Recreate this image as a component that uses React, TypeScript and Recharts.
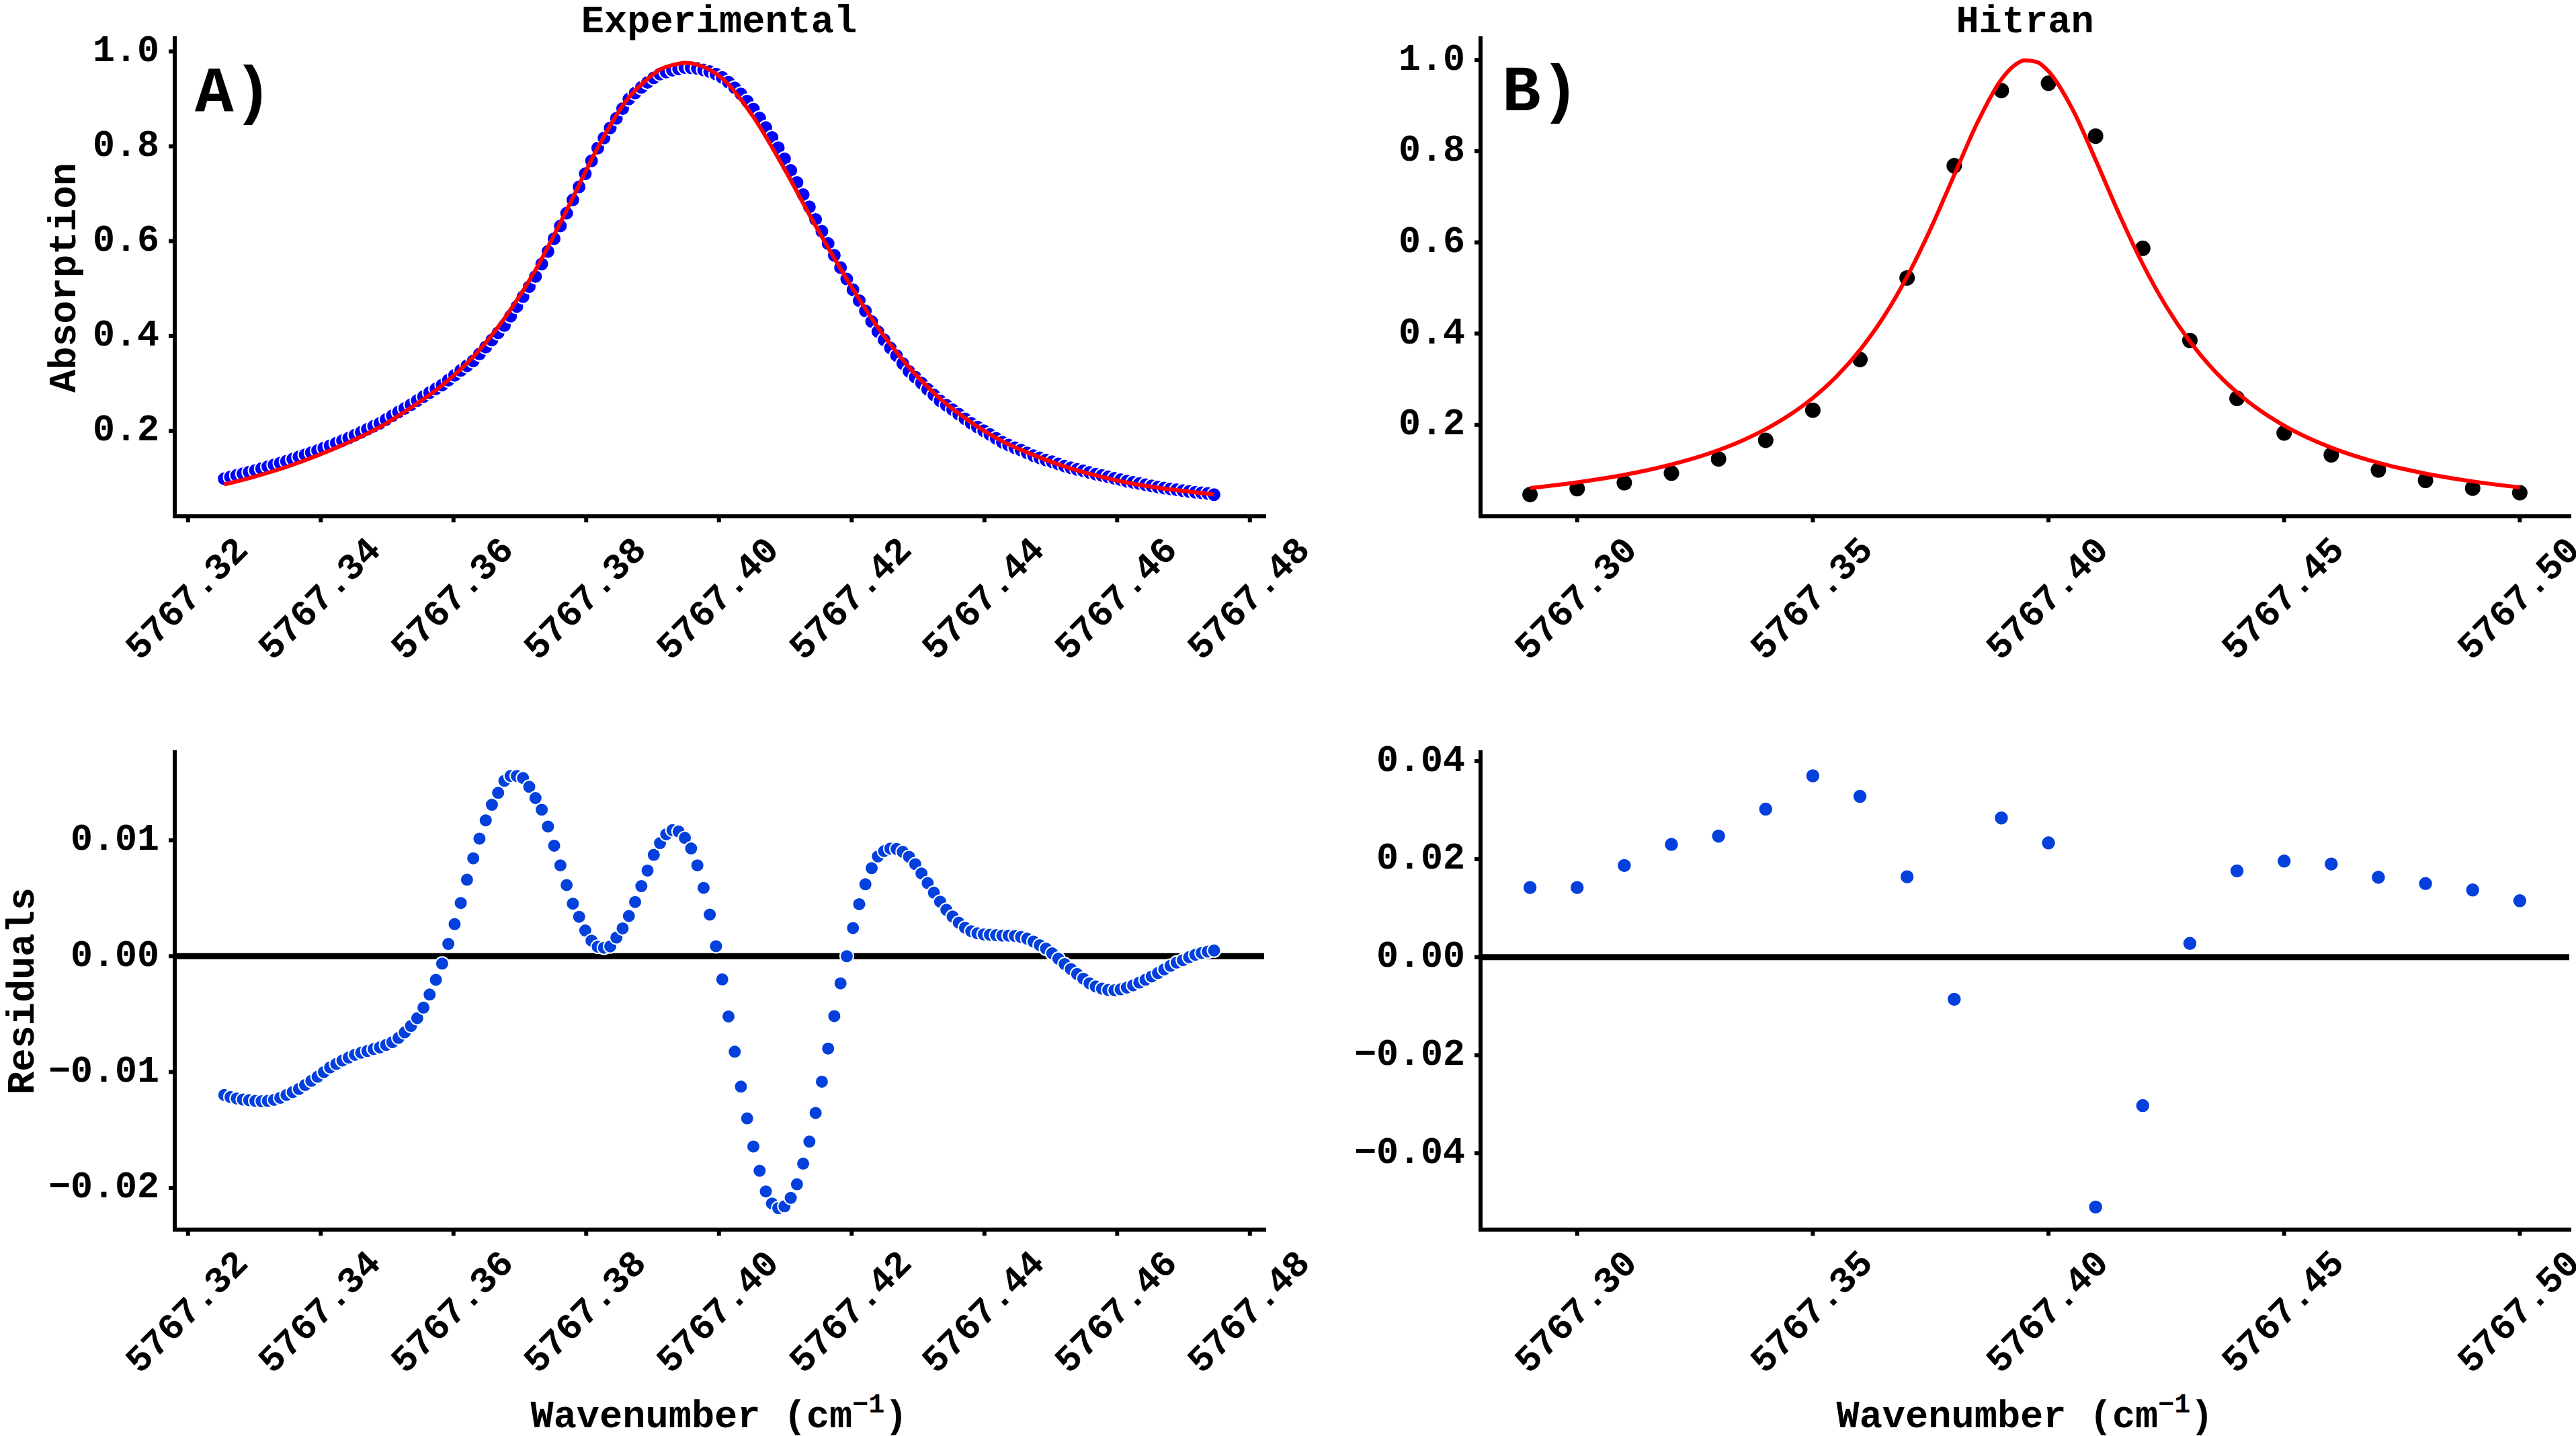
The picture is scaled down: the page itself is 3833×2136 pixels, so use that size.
import React from 'react';
import { ComposedChart, Scatter, XAxis, YAxis, ReferenceLine } from 'recharts';

const FONT = '"Liberation Mono", "DejaVu Sans Mono", monospace';

// Experimental scan (panel A): measured absorption, fit residuals, fitted profile
const expWavenumber = [
  5767.32546, 5767.3264, 5767.32734, 5767.32827, 5767.32921, 5767.33015, 5767.33109, 5767.33203, 5767.33296, 5767.3339,
  5767.33484, 5767.33578, 5767.33672, 5767.33765, 5767.33859, 5767.33953, 5767.34047, 5767.34141, 5767.34234, 5767.34328,
  5767.34422, 5767.34516, 5767.3461, 5767.34703, 5767.34797, 5767.34891, 5767.34985, 5767.35079, 5767.35172, 5767.35266,
  5767.3536, 5767.35454, 5767.35548, 5767.35641, 5767.35735, 5767.35829, 5767.35923, 5767.36017, 5767.3611, 5767.36204,
  5767.36298, 5767.36392, 5767.36486, 5767.36579, 5767.36673, 5767.36767, 5767.36861, 5767.36955, 5767.37048, 5767.37142,
  5767.37236, 5767.3733, 5767.37424, 5767.37517, 5767.37611, 5767.37705, 5767.37799, 5767.37893, 5767.37986, 5767.3808,
  5767.38174, 5767.38268, 5767.38362, 5767.38455, 5767.38549, 5767.38643, 5767.38737, 5767.38831, 5767.38924, 5767.39018,
  5767.39112, 5767.39206, 5767.393, 5767.39393, 5767.39487, 5767.39581, 5767.39675, 5767.39769, 5767.39862, 5767.39956,
  5767.4005, 5767.40144, 5767.40238, 5767.40331, 5767.40425, 5767.40519, 5767.40613, 5767.40707, 5767.408, 5767.40894,
  5767.40988, 5767.41082, 5767.41176, 5767.41269, 5767.41363, 5767.41457, 5767.41551, 5767.41645, 5767.41738, 5767.41832,
  5767.41926, 5767.4202, 5767.42114, 5767.42207, 5767.42301, 5767.42395, 5767.42489, 5767.42583, 5767.42676, 5767.4277,
  5767.42864, 5767.42958, 5767.43052, 5767.43145, 5767.43239, 5767.43333, 5767.43427, 5767.43521, 5767.43614, 5767.43708,
  5767.43802, 5767.43896, 5767.4399, 5767.44083, 5767.44177, 5767.44271, 5767.44365, 5767.44459, 5767.44552, 5767.44646,
  5767.4474, 5767.44834, 5767.44928, 5767.45021, 5767.45115, 5767.45209, 5767.45303, 5767.45397, 5767.4549, 5767.45584,
  5767.45678, 5767.45772, 5767.45866, 5767.45959, 5767.46053, 5767.46147, 5767.46241, 5767.46335, 5767.46428, 5767.46522,
  5767.46616, 5767.4671, 5767.46804, 5767.46897, 5767.46991, 5767.47085, 5767.47179, 5767.47273, 5767.47366, 5767.4746,
];

const expAbsorption = [
  0.099, 0.1026, 0.1061, 0.1096, 0.113, 0.1165, 0.1205, 0.1245, 0.1284, 0.1322,
  0.136, 0.1405, 0.1451, 0.1495, 0.154, 0.1584, 0.1636, 0.1688, 0.1741, 0.1794,
  0.1848, 0.1909, 0.1971, 0.2034, 0.2096, 0.2159, 0.2239, 0.2318, 0.2397, 0.2474,
  0.255, 0.2638, 0.2722, 0.2805, 0.2886, 0.2966, 0.3069, 0.3172, 0.3274, 0.3374,
  0.3476, 0.3621, 0.3767, 0.3915, 0.4067, 0.4219, 0.4418, 0.4622, 0.4828, 0.504,
  0.5254, 0.5516, 0.5782, 0.6051, 0.632, 0.6589, 0.6869, 0.7144, 0.742, 0.7693,
  0.7962, 0.8175, 0.8386, 0.859, 0.8794, 0.8995, 0.9123, 0.924, 0.9346, 0.9443,
  0.9522, 0.9565, 0.9601, 0.9632, 0.9658, 0.9657, 0.9642, 0.9611, 0.9574, 0.9521,
  0.945, 0.9352, 0.9232, 0.9103, 0.895, 0.8784, 0.8595, 0.8393, 0.8184, 0.7968,
  0.7736, 0.7489, 0.7237, 0.6979, 0.672, 0.6455, 0.6208, 0.595, 0.5702, 0.5443,
  0.52, 0.4976, 0.4745, 0.4528, 0.4304, 0.4094, 0.3919, 0.3747, 0.3587, 0.342,
  0.3254, 0.3131, 0.3009, 0.2877, 0.2755, 0.2633, 0.254, 0.2446, 0.2351, 0.2255,
  0.2159, 0.208, 0.2001, 0.1922, 0.1842, 0.1762, 0.1702, 0.1643, 0.1593, 0.1535,
  0.1477, 0.1431, 0.1384, 0.1348, 0.1302, 0.1257, 0.1221, 0.1185, 0.1159, 0.1123,
  0.1086, 0.1058, 0.1029, 0.0999, 0.0969, 0.0937, 0.0913, 0.0889, 0.0864, 0.084,
  0.0815, 0.0795, 0.0776, 0.0758, 0.0739, 0.0721, 0.0706, 0.0693, 0.0679, 0.0655,
];

const expResidual = [
  -0.01198, -0.01216, -0.01228, -0.01237, -0.01243, -0.01249, -0.01252, -0.01249, -0.0124, -0.01222,
  -0.01198, -0.01173, -0.01146, -0.01112, -0.01076, -0.0104, -0.01, -0.0096, -0.0093, -0.009,
  -0.00875, -0.00851, -0.00833, -0.00818, -0.00802, -0.00787, -0.00766, -0.00742, -0.00705, -0.00657,
  -0.00602, -0.00535, -0.00444, -0.00331, -0.00204, -0.00064, 0.00106, 0.00277, 0.00459, 0.0066,
  0.00845, 0.01015, 0.01173, 0.01307, 0.0141, 0.01514, 0.01556, 0.01556, 0.01538, 0.01462,
  0.01365, 0.01264, 0.01119, 0.00954, 0.00784, 0.00614, 0.00453, 0.0034, 0.00222, 0.00134,
  0.00082, 0.00073, 0.00085, 0.00161, 0.0024, 0.00347, 0.00468, 0.00605, 0.00739, 0.00875,
  0.00976, 0.01052, 0.01088, 0.01076, 0.01021, 0.0093, 0.00784, 0.0059, 0.00359, 0.00086,
  -0.002, -0.0052, -0.00824, -0.01126, -0.014, -0.01643, -0.01852, -0.0203, -0.02135, -0.02175,
  -0.02159, -0.02086, -0.01969, -0.0179, -0.016, -0.01353, -0.01083, -0.00797, -0.00517, -0.00234,
  0.0, 0.00243, 0.00449, 0.00621, 0.0076, 0.00861, 0.00907, 0.00929, 0.00926, 0.00901,
  0.00858, 0.00794, 0.00714, 0.00631, 0.00548, 0.00471, 0.004, 0.00342, 0.00289, 0.00246,
  0.00215, 0.00197, 0.00188, 0.00185, 0.00181, 0.00178, 0.00178, 0.00175, 0.00166, 0.00151,
  0.00126, 0.00095, 0.00065, 0.00025, -0.00022, -0.00068, -0.00111, -0.00154, -0.00194, -0.00234,
  -0.00261, -0.0028, -0.00292, -0.00294, -0.00286, -0.00271, -0.00252, -0.00228, -0.00203, -0.00175,
  -0.00145, -0.00114, -0.00083, -0.00055, -0.00034, -0.00009, 0.00012, 0.00028, 0.0004, 0.00049,
];

const expFitWavenumber = [
  5767.32546, 5767.33015, 5767.33484, 5767.33953, 5767.34422, 5767.34891, 5767.3536, 5767.35829,
  5767.36298, 5767.36767, 5767.37236, 5767.37705, 5767.38174, 5767.38643, 5767.38924, 5767.39112,
  5767.393, 5767.39487, 5767.39581, 5767.39862, 5767.4005, 5767.40519, 5767.40988, 5767.41457,
  5767.41926, 5767.42395, 5767.42864, 5767.43333, 5767.43802, 5767.44271, 5767.4474, 5767.45209,
  5767.45678, 5767.46147, 5767.46616, 5767.47085, 5767.4746,
];
const expFitAbsorption = [
  0.087, 0.104, 0.124, 0.148, 0.176, 0.208, 0.249, 0.296,
  0.356, 0.437, 0.539, 0.665, 0.797, 0.903, 0.942, 0.962,
  0.971, 0.976, 0.975, 0.961, 0.943, 0.862, 0.752, 0.632,
  0.52, 0.418, 0.334, 0.268, 0.218, 0.178, 0.149, 0.125,
  0.106, 0.091, 0.08, 0.072, 0.066,
];

// HITRAN line (panel B)
const hitranWavenumber = [
  5767.29, 5767.3, 5767.31, 5767.32, 5767.33, 5767.34, 5767.35, 5767.36, 5767.37, 5767.38, 5767.39,
  5767.4, 5767.41, 5767.42, 5767.43, 5767.44, 5767.45, 5767.46, 5767.47, 5767.48, 5767.49, 5767.5,
];
const hitranAbsorption = [
  0.047, 0.06, 0.073, 0.094, 0.125, 0.166, 0.232, 0.343, 0.522, 0.768, 0.933,
  0.949, 0.833, 0.587, 0.385, 0.258, 0.182, 0.134, 0.101, 0.078, 0.061, 0.051,
];
const hitranResidual = [
  0.0142, 0.0142, 0.0187, 0.023, 0.0247, 0.0302, 0.037, 0.0328, 0.0164, -0.0086, 0.0284,
  0.0233, -0.051, -0.0303, 0.0028, 0.0176, 0.0196, 0.019, 0.0163, 0.015, 0.0137, 0.0115,
];
const hitranFitWavenumber = [
  5767.29, 5767.295, 5767.3, 5767.305, 5767.31, 5767.315, 5767.32, 5767.325, 5767.33, 5767.335,
  5767.34, 5767.345, 5767.35, 5767.355, 5767.36, 5767.365, 5767.37, 5767.375, 5767.38, 5767.385,
  5767.39, 5767.3925, 5767.395, 5767.3975, 5767.4, 5767.405, 5767.41, 5767.415, 5767.42, 5767.425,
  5767.43, 5767.435, 5767.44, 5767.445, 5767.45, 5767.455, 5767.46, 5767.465, 5767.47, 5767.475,
  5767.48, 5767.485, 5767.49, 5767.495, 5767.5,
];
const hitranFitAbsorption = [
  0.0613, 0.0671, 0.0737, 0.0814, 0.0903, 0.1007, 0.1129, 0.1273, 0.1445, 0.1652,
  0.1903, 0.221, 0.2588, 0.3057, 0.364, 0.4362, 0.5248, 0.63, 0.7477, 0.8643,
  0.9573, 0.986, 0.9993, 0.9956, 0.9752, 0.8939, 0.7809, 0.6618, 0.5525, 0.4592,
  0.3826, 0.3207, 0.2709, 0.2307, 0.1982, 0.1717, 0.1499, 0.1318, 0.1166, 0.1039,
  0.093, 0.0838, 0.0758, 0.0688, 0.0628,
];

const expTicks = [5767.32, 5767.34, 5767.36, 5767.38, 5767.4, 5767.42, 5767.44, 5767.46, 5767.48];
const hitranTicks = [5767.3, 5767.35, 5767.4, 5767.45, 5767.5];
const absorptionTicks = [0.2, 0.4, 0.6, 0.8, 1.0];
const expResidualTicks = [-0.02, -0.01, 0, 0.01];
const hitranResidualTicks = [-0.04, -0.02, 0, 0.02, 0.04];

type Pt = { x: number; y: number };
const toPoints = (xs: number[], ys: number[]): Pt[] => xs.map((x, i) => ({ x, y: ys[i] }));

const fmt = (v: number, digits: number) => v.toFixed(digits).replace('-', '\u2212');

const XTick = ({ x, y, payload }: any) => (
  <g transform={`translate(${x},${y + 115}) rotate(-45)`}>
    <text
      textAnchor="middle"
      dominantBaseline="central"
      fontFamily={FONT}
      fontWeight="bold"
      fontSize={55}
      fill="#000"
    >
      {fmt(payload.value, 2)}
    </text>
  </g>
);

const YTick = ({ x, y, payload, digits }: any) => (
  <text
    x={x}
    y={y}
    textAnchor="end"
    dominantBaseline="central"
    fontFamily={FONT}
    fontWeight="bold"
    fontSize={55}
    fill="#000"
  >
    {fmt(payload.value, digits)}
  </text>
);

type PanelProps = {
  left: number;
  top: number;
  width: number;
  height: number;
  plot: { x0: number; y0: number; x1: number; y1: number };
  xDomain: [number, number];
  yDomain: [number, number];
  xTicks: number[];
  yTicks: number[];
  yDigits: number;
  dots: Pt[];
  dotColor: string;
  dotRadius: number;
  dotEdge: number;
  fit?: Pt[];
  zeroLine?: boolean;
};

const spine = { stroke: '#000', strokeWidth: 6, strokeLinecap: 'square' as const };
const tickMark = { stroke: '#000', strokeWidth: 6 };

function Panel(p: PanelProps) {
  const yAxisWidth = p.plot.x0 - p.left;
  const xAxisHeight = p.top + p.height - p.plot.y1;
  const margin = { top: p.plot.y0 - p.top, right: p.left + p.width - p.plot.x1, bottom: 0, left: 0 };

  return (
    <div style={{ position: 'absolute', left: p.left, top: p.top }}>
      <ComposedChart width={p.width} height={p.height} margin={margin}>
        <XAxis
          type="number"
          dataKey="x"
          domain={p.xDomain}
          allowDataOverflow
          ticks={p.xTicks}
          interval={0}
          height={xAxisHeight}
          tickSize={9}
          tickMargin={0}
          axisLine={spine}
          tickLine={tickMark}
          tick={(t: any) => <XTick {...t} />}
        />
        <YAxis
          type="number"
          dataKey="y"
          domain={p.yDomain}
          allowDataOverflow
          ticks={p.yTicks}
          interval={0}
          width={yAxisWidth}
          tickSize={9}
          tickMargin={14}
          axisLine={spine}
          tickLine={tickMark}
          tick={(t: any) => <YTick {...t} digits={p.yDigits} />}
        />
        {p.zeroLine && <ReferenceLine y={0} stroke="#000" strokeWidth={9} />}
        <Scatter
          data={p.dots}
          dataKey="y"
          isAnimationActive={false}
          shape={(s: any) => (
            <circle
              cx={s.cx}
              cy={s.cy}
              r={p.dotRadius}
              fill={p.dotColor}
              stroke="#fff"
              strokeWidth={p.dotEdge}
            />
          )}
        />
        {/* fitted profile: a second scatter joined by a smooth curve, drawn above the dots */}
        {p.fit && (
          <Scatter
            data={p.fit}
            dataKey="y"
            fill="#ff0000"
            line={{ stroke: '#ff0000', strokeWidth: 6, fill: 'none' }}
            lineJointType="monotoneX"
            shape={() => <g />}
            isAnimationActive={false}
          />
        )}
      </ComposedChart>
    </div>
  );
}

const labelStyle = { fontFamily: FONT, fontWeight: 'bold' as const, fill: '#000' };

function AxisTitle({ x }: { x: number }) {
  return (
    <text x={x} y={2123} textAnchor="middle" fontSize={57} {...labelStyle}>
      Wavenumber (cm
      <tspan dy={-22} fontSize={40}>
        {'\u22121'}
      </tspan>
      <tspan dy={22}>)</tspan>
    </text>
  );
}

export default function App() {
  return (
    <div
      style={{
        position: 'absolute',
        left: 0,
        top: 0,
        width: 3833,
        height: 2136,
        background: '#fff',
        overflow: 'hidden',
      }}
    >
      <Panel
        left={0}
        top={0}
        width={1990}
        height={1080}
        plot={{ x0: 260, y0: 57, x1: 1881, y1: 768 }}
        xDomain={[5767.318, 5767.48215]}
        yDomain={[0.0198, 1.0276]}
        xTicks={expTicks}
        yTicks={absorptionTicks}
        yDigits={1}
        dots={toPoints(expWavenumber, expAbsorption)}
        dotColor="#0000ff"
        dotRadius={10.5}
        dotEdge={2}
        fit={toPoints(expFitWavenumber, expFitAbsorption)}
      />
      <Panel
        left={1950}
        top={0}
        width={1883}
        height={1080}
        plot={{ x0: 2203, y0: 57, x1: 3823, y1: 768 }}
        xDomain={[5767.2795, 5767.5105]}
        yDomain={[-0.0007, 1.0475]}
        xTicks={hitranTicks}
        yTicks={absorptionTicks}
        yDigits={1}
        dots={toPoints(hitranWavenumber, hitranAbsorption)}
        dotColor="#000000"
        dotRadius={11.5}
        dotEdge={0}
        fit={toPoints(hitranFitWavenumber, hitranFitAbsorption)}
      />
      <Panel
        left={0}
        top={1080}
        width={1990}
        height={1056}
        plot={{ x0: 260, y0: 1119, x1: 1881, y1: 1829 }}
        xDomain={[5767.318, 5767.48215]}
        yDomain={[-0.0236, 0.0176]}
        xTicks={expTicks}
        yTicks={expResidualTicks}
        yDigits={2}
        dots={toPoints(expWavenumber, expResidual)}
        dotColor="#0340dc"
        dotRadius={10}
        dotEdge={2}
        zeroLine
      />
      <Panel
        left={1950}
        top={1080}
        width={1883}
        height={1056}
        plot={{ x0: 2203, y0: 1119, x1: 3823, y1: 1829 }}
        xDomain={[5767.2795, 5767.5105]}
        yDomain={[-0.0556, 0.0418]}
        xTicks={hitranTicks}
        yTicks={hitranResidualTicks}
        yDigits={2}
        dots={toPoints(hitranWavenumber, hitranResidual)}
        dotColor="#0340dc"
        dotRadius={10.5}
        dotEdge={1.5}
        zeroLine
      />

      <svg
        width={3833}
        height={2136}
        style={{ position: 'absolute', left: 0, top: 0, pointerEvents: 'none' }}
      >
        <text x={1070} y={48} textAnchor="middle" fontSize={57} {...labelStyle}>
          Experimental
        </text>
        <text x={3013} y={48} textAnchor="middle" fontSize={57} {...labelStyle}>
          Hitran
        </text>
        <text x={290} y={166} fontSize={96} {...labelStyle}>
          A)
        </text>
        <text x={2235} y={164} fontSize={96} {...labelStyle}>
          B)
        </text>
        <text
          x={112}
          y={413}
          textAnchor="middle"
          fontSize={57}
          transform="rotate(-90 112 413)"
          {...labelStyle}
        >
          Absorption
        </text>
        <text
          x={50}
          y={1474}
          textAnchor="middle"
          fontSize={57}
          transform="rotate(-90 50 1474)"
          {...labelStyle}
        >
          Residuals
        </text>
        <AxisTitle x={1070} />
        <AxisTitle x={3013} />
      </svg>
    </div>
  );
}
